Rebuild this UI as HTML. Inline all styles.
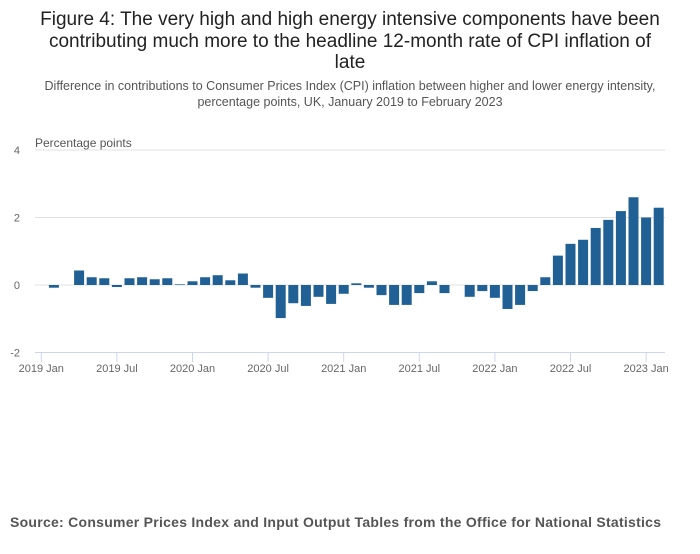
<!DOCTYPE html>
<html><head><meta charset="utf-8"><style>
body{margin:0;background:#fff;font-family:"Liberation Sans",sans-serif;}
#wrap{position:relative;width:700px;height:549px;}
</style></head><body>
<div id="wrap">
<svg id="c" width="700" height="549">
<text x="350" y="25" text-anchor="middle" font-size="19" fill="#222">Figure 4: The very high and high energy intensive components have been</text>
<text x="350" y="47" text-anchor="middle" font-size="19" fill="#222">contributing much more to the headline 12-month rate of CPI inflation of</text>
<text x="350" y="68" text-anchor="middle" font-size="19" fill="#222">late</text>
<text x="350" y="90" text-anchor="middle" font-size="12.5" fill="#555">Difference in contributions to Consumer Prices Index (CPI) inflation between higher and lower energy intensity,</text>
<text x="350" y="106" text-anchor="middle" font-size="12.5" fill="#555">percentage points, UK, January 2019 to February 2023</text>
<text x="35" y="147" font-size="12" fill="#555">Percentage points</text>
<text x="10" y="527" font-size="14" font-weight="bold" fill="#555" textLength="651" lengthAdjust="spacing">Source: Consumer Prices Index and Input Output Tables from the Office for National Statistics</text>
<g id="g"></g>
</svg>
</div>
<script>
const values=[0,-0.08,0,0.43,0.23,0.2,-0.06,0.2,0.23,0.17,0.2,0.02,
0.11,0.23,0.29,0.14,0.34,-0.08,-0.38,-0.98,-0.54,-0.62,-0.35,-0.56,
-0.26,0.05,-0.08,-0.3,-0.59,-0.59,-0.24,0.11,-0.24,0,-0.35,-0.18,
-0.38,-0.71,-0.59,-0.18,0.23,0.87,1.22,1.34,1.69,1.93,2.19,2.6,
2.0,2.29];
const yTicks=[4,2,0,-2];
const xTickIdx=[0,6,12,18,24,30,36,42,48];
const xTickLabels=["2019 Jan","2019 Jul","2020 Jan","2020 Jul","2021 Jan","2021 Jul","2022 Jan","2022 Jul","2023 Jan"];
const NS="http://www.w3.org/2000/svg";
const g=document.getElementById('g');
const x0=35,x1=665,band=(x1-x0)/values.length;
const y=v=>285-v*33.75;
const xc=i=>x0+band*(i+0.5);
function mk(t,a){const e=document.createElementNS(NS,t);for(const k in a)e.setAttribute(k,a[k]);g.appendChild(e);return e;}
yTicks.forEach(t=>{
 if(t>-2){const l=mk('line',{x1:x0,x2:x1,y1:y(t),y2:y(t),stroke:'#e0e0e0','stroke-width':1});
 
 }
 const tx=mk('text',{x:20,y:y(t)+4,'text-anchor':'end','font-size':11,fill:'#666'});tx.textContent=t;
 
 
});
const ax=mk('line',{x1:x0,x2:x1,y1:352.5,y2:352.5,stroke:'#ccd6eb','stroke-width':1});


values.forEach((v,i)=>{
 const r=mk('rect',{x:xc(i)-5,width:10,y:Math.min(y(v),y(0)),height:Math.abs(y(v)-y(0)),fill:'#206095'});
 
 
});
xTickIdx.forEach((idx,k)=>{
 const l=mk('line',{x1:xc(idx),x2:xc(idx),y1:352,y2:362,stroke:'#ccd6eb'});
 
 
 const t=mk('text',{x:xc(idx),y:372,'text-anchor':'middle','font-size':11,fill:'#666'});t.textContent=xTickLabels[k];
 
 
});
</script>
</body></html>
